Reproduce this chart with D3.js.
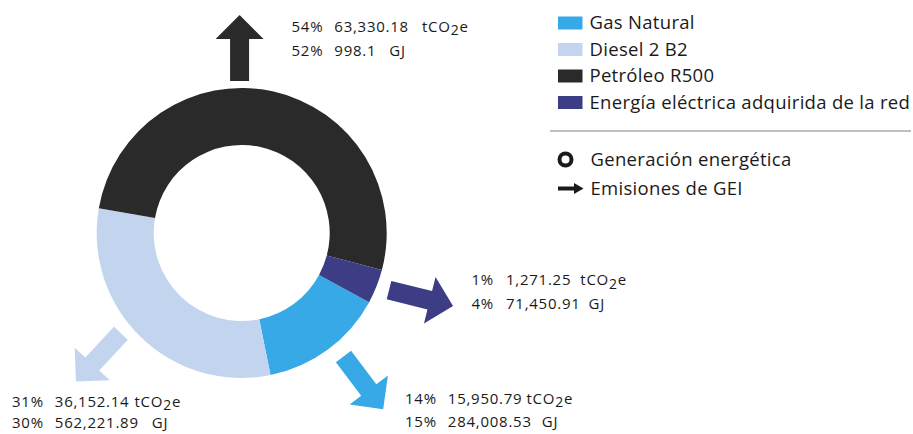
<!DOCTYPE html>
<html>
<head>
<meta charset="utf-8">
<script src="https://cdn.jsdelivr.net/npm/d3@7"></script>
<style>
  body { margin: 0; background: #fff; }
  svg { font-family: "Open Sans", sans-serif; }
  .lbl { font-size: 15px; letter-spacing: 0.75px; fill: #1a1a1a; }
  .sub { font-size: 14px; }
  .leg { font-size: 18.5px; letter-spacing: 0.3px; fill: #1a1a1a; }
</style>
</head>
<body>
<div id="chart"></div>
<script>
// categories, legend order
const categories = ["Gas Natural", "Diesel 2 B2", "Petróleo R500", "Energía eléctrica adquirida de la red"];
const colors = ["#38a9e7", "#c3d5ee", "#2a2a2a", "#3c3d85"];
// share of the ring (generación energética)
const ringShare = [13.9, 30.9, 51.4, 3.8];
// emisiones de GEI
const co2Pct = ["14%", "31%", "54%", "1%"];
const co2Val = ["15,950.79", "36,152.14", "63,330.18", "1,271.25"];
// energía
const gjPct = ["15%", "30%", "52%", "4%"];
const gjVal = ["284,008.53", "562,221.89", "998.1", "71,450.91"];

const width = 913, height = 434;
const cx = 241.7, cy = 233;
const rOuter = 145, rInner = 88;
const startDeg = 118.5;

const svg = d3.select("#chart").append("svg")
  .attr("width", width)
  .attr("height", height);

const g = svg.append("g").attr("transform", `translate(${cx},${cy})`);

// donut
const pie = d3.pie().sort(null).value(d => d)
  .startAngle(startDeg * Math.PI / 180)
  .endAngle((startDeg + 360) * Math.PI / 180);
const arc = d3.arc().innerRadius(rInner).outerRadius(rOuter);

g.selectAll("path.slice")
  .data(pie(ringShare))
  .enter()
  .append("path")
  .attr("class", "slice")
  .attr("d", arc)
  .attr("fill", (d, i) => colors[i]);

// arrows: base angle / radius from the centre, direction (degrees clockwise from up)
const arrowLayout = [
  { a: 140.5, r: 160, dir: 143 },
  { a: 230.3, r: 157, dir: 223 },
  { a: -0.8, r: 152, dir: 0 },
  { a: 111.2, r: 158, dir: 104 }
];
const L = 66, sw = 9.5, hw = 24, hl = 24;
const arrowShape = d3.line()([
  [0, -sw], [L - hl, -sw], [L - hl, -hw], [L, 0], [L - hl, hw], [L - hl, sw], [0, sw]
]) + "Z";

arrowLayout.forEach((p, i) => {
  const [x, y] = d3.pointRadial(p.a * Math.PI / 180, p.r);
  g.append("path")
    .attr("d", arrowShape)
    .attr("fill", colors[i])
    .attr("transform", `translate(${x},${y}) rotate(${p.dir - 90})`);
});

// value labels: first baseline, line gap, and the gaps before value / unit
const labelPos = [
  { x: 405, y: 403.5, gap: 23, g1: 11, u1: 4, u2: 10 },
  { x: 12, y: 406.5, gap: 21, g1: 11, u1: 5, u2: 13 },
  { x: 291.5, y: 31.5, gap: 24.5, g1: 11, u1: 13, u2: 13 },
  { x: 471.5, y: 285, gap: 23.5, g1: 12, u1: 9, u2: 8 }
];

labelPos.forEach((p, i) => {
  const t1 = svg.append("text").attr("class", "lbl").attr("x", p.x).attr("y", p.y);
  t1.append("tspan").text(co2Pct[i]);
  t1.append("tspan").attr("dx", p.g1).text(co2Val[i]);
  t1.append("tspan").attr("dx", p.u1).text("tCO");
  t1.append("tspan").attr("class", "sub").attr("dy", 3.5).text("2");
  t1.append("tspan").attr("dy", -3.5).text("e");

  const t2 = svg.append("text").attr("class", "lbl").attr("x", p.x).attr("y", p.y + p.gap);
  t2.append("tspan").text(gjPct[i]);
  t2.append("tspan").attr("dx", p.g1).text(gjVal[i]);
  t2.append("tspan").attr("dx", p.u2).text("GJ");
});

// legend
const legY = d3.scalePoint().domain(categories).range([23, 102.5]);
const leg = svg.selectAll("g.legend")
  .data(categories)
  .enter()
  .append("g")
  .attr("class", "legend")
  .attr("transform", d => `translate(558,${legY(d)})`);

leg.append("rect")
  .attr("y", -6.5)
  .attr("width", 24.5)
  .attr("height", 13)
  .attr("fill", (d, i) => colors[i]);

leg.append("text")
  .attr("class", "leg")
  .attr("x", 31.5)
  .attr("dy", "0.35em")
  .text(d => d);

svg.append("line")
  .attr("x1", 550).attr("x2", 911)
  .attr("y1", 131).attr("y2", 131)
  .attr("stroke", "#aaaaaa")
  .attr("stroke-width", 1.5);

svg.append("circle")
  .attr("cx", 565.5).attr("cy", 159.5).attr("r", 6)
  .attr("fill", "none")
  .attr("stroke", "#1a1a1a")
  .attr("stroke-width", 4);
svg.append("text").attr("class", "leg")
  .attr("x", 590.5).attr("y", 159.5).attr("dy", "0.35em")
  .text("Generación energética");

svg.append("path")
  .attr("d", d3.line()([[0, -2], [16, -2], [16, -5.5], [25.5, 0], [16, 5.5], [16, 2], [0, 2]]) + "Z")
  .attr("fill", "#1a1a1a")
  .attr("transform", "translate(558,188.5)");
svg.append("text").attr("class", "leg")
  .attr("x", 590.5).attr("y", 188.5).attr("dy", "0.35em")
  .text("Emisiones de GEI");
</script>
</body>
</html>
